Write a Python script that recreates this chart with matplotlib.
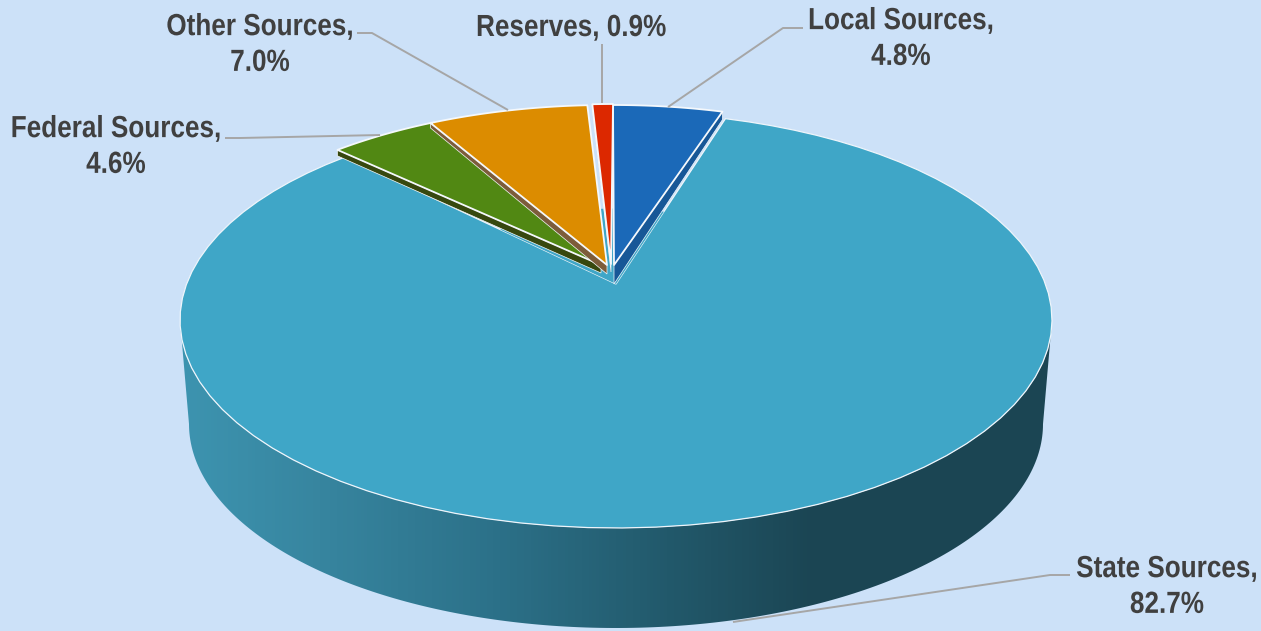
import matplotlib
matplotlib.use('Agg')
import matplotlib.pyplot as plt
from matplotlib.colors import LinearSegmentedColormap
from matplotlib.patches import Polygon
from matplotlib.patheffects import AbstractPathEffect
from matplotlib.transforms import Affine2D
import numpy as np

# data, clockwise from 12 o'clock
sources = ['Local Sources', 'State Sources', 'Federal Sources', 'Other Sources', 'Reserves']
shares = [4.8, 82.7, 4.6, 7.0, 0.9]

# style per slice
top_colors = ['#1b69b8', '#3fa6c7', '#518813', '#dc8c00', '#dc2800']
side_colors = ['#175797', None, '#37480f', '#7d5c3a', '#7a3a2c']
# top face displacement: (dx at rim, dx at apex, dy at rim, dy at apex)
lifts = [(-3, -2, -7, -19), (0, 0, 0, 0), (-8, -15, -7, -19), (-8, -9, -7, -19), (-3, -5, -8, -20)]
side_edge = [1, None, 0, 0, 0]  # which straight edge shows its thickness
side_depth = [(8, 19), None, (6, 8), (5, 9), (3, 8)]

label_text = ['Local Sources,\n4.8%', 'State Sources,\n82.7%', 'Federal Sources,\n4.6%',
              'Other Sources,\n7.0%', 'Reserves, 0.9%']
label_pos = [(901, 39), (1167, 587), (116, 147), (260, 45), (571, 28)]
leaders = [[(668, 107), (783, 28), (803, 28)],
           [(733, 622), (1050, 575), (1070, 575)],
           [(380, 135), (240, 138), (225, 138)],
           [(508, 110), (372, 33), (357, 33)],
           [(602, 103), (602, 44)]]

BG = '#cce1f8'
CX, CY, A, B = 616, 320, 436, 208  # outline of the disc on screen
APEX_Y, TOP_Y = 284, 112
K = 72 / 416
C = TOP_Y * (1 + K) - APEX_Y
XS = A * np.sqrt(1 - K ** 2)


class Narrow(AbstractPathEffect):
    """Squeeze each text line sideways about its own middle."""

    def __init__(self, factor):
        super().__init__()
        self.factor = factor

    def draw_path(self, renderer, gc, tpath, affine, rgbFace=None):
        ext = tpath.get_extents()
        mid = (ext.x0 + ext.x1) / 2
        squeeze = Affine2D().translate(-mid, 0).scale(self.factor, 1).translate(mid, 0)
        renderer.draw_path(gc, tpath, squeeze + affine, rgbFace)


def project(r, frac):
    """Perspective view of a point on the disc, frac is the share of the turn from the top."""
    t = 2 * np.pi * np.asarray(frac)
    u, v = r * np.sin(t), r * np.cos(t)
    d = 1 + K * v
    return CX + XS * u / d, (APEX_Y + C * v) / d


def wedge_points(f0, f1, lift=(0, 0, 0, 0), r=1.0):
    fr = np.linspace(f0, f1, 80)
    x, y = project(r, fr)
    x = x + lift[0]
    y = y + lift[2]
    ax_, ay_ = project(0.0, f0)
    return np.column_stack([np.r_[ax_ + lift[1], x], np.r_[ay_ + lift[3], y]])


fig = plt.figure(figsize=(12.61, 6.31), dpi=100, facecolor=BG)
ax = fig.add_axes([0, 0, 1, 1])

# side wall of the disc, shaded left to right
phi = np.linspace(0, np.pi, 200)
top_x, top_y = CX + A * np.cos(phi), CY + B * np.sin(phi)
low_x, low_y = CX + 427 * np.cos(phi[::-1]), 424 + 204 * np.sin(phi[::-1])
wall = Polygon(np.column_stack([np.r_[top_x, low_x], np.r_[top_y, low_y]]),
               closed=True, fc='none', ec='none')
ax.add_patch(wall)
shade = LinearSegmentedColormap.from_list('wall', [(0, '#3d94b0'), (0.16, '#37859f'), (0.36, '#2c7189'),
                                                   (0.56, '#22596b'), (0.73, '#1b4553'), (1, '#1b4553')])
img = ax.imshow(np.linspace(0, 1, 256)[None, :], cmap=shade, extent=(180, 1052, 631, 300),
                aspect='auto', zorder=1)
img.set_clip_path(wall)
ax.set_xlim(0, 1261)
ax.set_ylim(631, 0)
ax.axis('off')

fracs = np.r_[0, np.cumsum(shares)] / 100

# state colour carries on under the raised slices near the middle
ax.add_patch(Polygon(wedge_points(fracs[2], 1 + fracs[1], r=0.4), closed=True, fc=top_colors[1], ec='none', zorder=2.5))

for i, name in enumerate(sources):
    f0, f1 = fracs[i], fracs[i + 1]
    lift = lifts[i]
    top = wedge_points(f0, f1, lift)
    if side_colors[i]:
        fe = f1 if side_edge[i] else f0
        rx, ry = project(1.0, fe)
        px, py = project(0.0, fe)
        rim_d, apex_d = side_depth[i]
        side = [(rx + lift[0], ry + lift[2]), (px + lift[1], py + lift[3]),
                (px + lift[1], py + lift[3] + apex_d), (rx + lift[0], ry + lift[2] + rim_d)]
        ax.add_patch(Polygon(side, closed=True, fc=side_colors[i], ec='#f4f8fc', lw=0.5, zorder=3 + i * 0.1))
        ax.add_patch(Polygon(top, closed=True, fc=top_colors[i], ec='#f4f8fc', lw=1.3, zorder=3 + i * 0.1 + 0.05,
                             joinstyle='round'))
    else:
        # big slice keeps a thin edge
        ax.add_patch(Polygon(top, closed=True, fc=top_colors[i], ec='#eef5fb', lw=0.9, zorder=2))

for pts in leaders:
    xs, ys = zip(*pts)
    ax.plot(xs, ys, color='#a6a6a6', lw=1.4, zorder=6, solid_capstyle='butt')

for txt, (x, y) in zip(label_text, label_pos):
    ax.text(x, y, txt, ha='center', va='center', fontsize=22, fontweight='bold', color='#404040',
            family='Liberation Sans', linespacing=1.25, zorder=7,
            path_effects=[Narrow(0.855)])

fig.savefig('out.png', dpi=100, facecolor=BG)
